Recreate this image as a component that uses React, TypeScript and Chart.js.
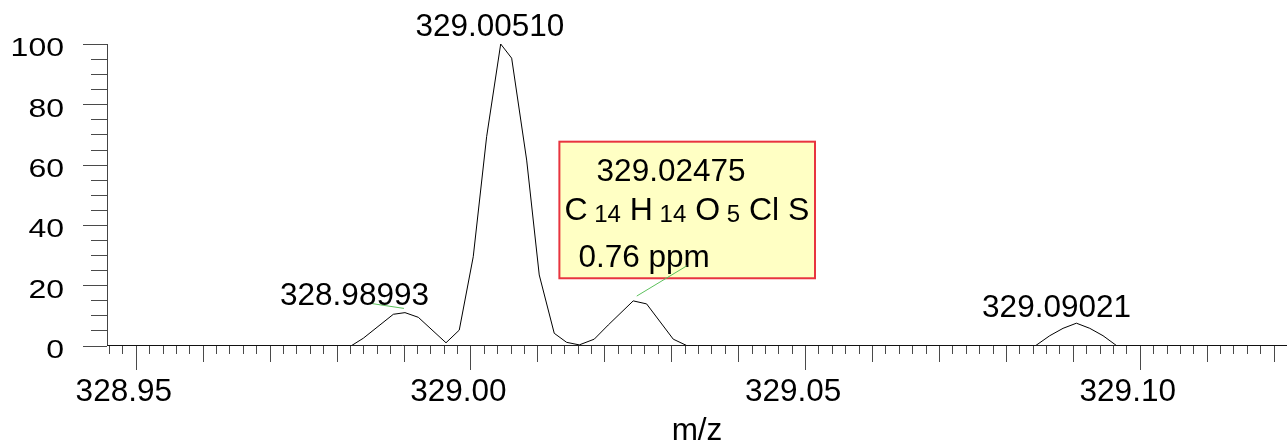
import React, { useEffect, useRef } from "react";
import { Chart, registerables } from "chart.js";

Chart.register(...registerables);

// ---- data ----
const X_MIN = 328.9457;
const X_MAX = 329.122;
const mzValues = [
  328.9457, 328.98226, 328.98399, 328.98848, 328.99022, 328.99221, 328.99635,
  328.99833, 329.00042, 329.00242, 329.00452, 329.00616, 329.0084, 329.01028,
  329.01252, 329.01437, 329.01626, 329.0185, 329.02059, 329.02432, 329.02632,
  329.0303, 329.0323, 329.08447, 329.08656, 329.08854, 329.09054, 329.09253,
  329.09451, 329.09651, 329.122,
];
const intensity = [
  0, 0, 2.4, 10.35, 10.9, 9.35, 0.9, 5.1, 29.45, 69.25, 100, 95.3, 61.5, 23.4,
  4.05, 1.05, 0.2, 2.1, 6.8, 14.8, 13.8, 2.1, 0, 0, 3.25, 5.7, 7.4, 5.7, 3.25,
  0, 0,
];

const xTickValues = [328.95, 329.0, 329.05, 329.1];
const xTickLabels = ["328.95", "329.00", "329.05", "329.10"];
const yTickValues = [0, 20, 40, 60, 80, 100];
const yTickLabels = ["0", "20", "40", "60", "80", "100"];

// peak labels (centre x, baseline y in data units)
const peakLabels = ["328.98993", "329.00510", "329.09021"];
const peakLabelX = [328.98268, 329.00291, 329.08757];
const peakLabelY = [13.4, 102.65, 9.55];

// green leader lines [x1, y1, x2, y2] in data units
const leaderLines = [
  [328.985, 14.0, 328.99007, 12.3],
  [329.03231, 26.4, 329.02485, 16.4],
];

// annotation box
const boxX = [329.01329, 329.05148];
const boxY = [67.6, 22.3];
const boxMass = "329.02475";
const boxMassPos = [329.01885, 54.7];
const formulaParts: [string, boolean][] = [
  ["C", false],
  [" 14", true],
  [" H", false],
  [" 14", true],
  [" O", false],
  [" 5", true],
  [" Cl S", false],
];
const formulaPos = [329.01404, 41.6];
const boxPpm = "0.76 ppm";
const boxPpmPos = [329.01614, 26.1];

const xTitle = "m/z";

const FONT = '"Liberation Sans", Arial, Helvetica, sans-serif';

function drawText(
  ctx: CanvasRenderingContext2D,
  text: string,
  x: number,
  y: number,
  size: number,
  align: CanvasTextAlign,
  sx = 1,
  sy = 1
) {
  ctx.save();
  ctx.translate(x, y);
  ctx.scale(sx, sy);
  ctx.font = `${size}px ${FONT}`;
  ctx.textAlign = align;
  ctx.textBaseline = "alphabetic";
  ctx.fillStyle = "#000";
  ctx.fillText(text, 0, 0);
  ctx.restore();
}

const decorPlugin = {
  id: "decor",
  afterDraw(chart: any) {
    const ctx: CanvasRenderingContext2D = chart.ctx;
    const xs = chart.scales.x;
    const ys = chart.scales.y;
    const area = chart.chartArea;
    const X = (v: number) => xs.getPixelForValue(v);
    const Y = (v: number) => ys.getPixelForValue(v);

    ctx.save();
    // x ticks
    ctx.strokeStyle = "#4a4a4a";
    ctx.lineWidth = 1;
    const kMin = Math.ceil(X_MIN / 0.002 - 1e-6);
    const kMax = Math.floor(X_MAX / 0.002 + 1e-6);
    const yb = Math.round(area.bottom);
    ctx.beginPath();
    for (let k = kMin; k <= kMax; k++) {
      const px = Math.round(X(k * 0.002)) + 0.5;
      if (px <= area.left + 1) continue;
      const len = k % 25 === 0 ? 24 : k % 5 === 0 ? 16 : 8;
      ctx.moveTo(px, yb);
      ctx.lineTo(px, yb + len);
    }
    ctx.stroke();
    // y ticks
    const xl = Math.round(area.left);
    ctx.beginPath();
    for (let v = 0; v <= 100; v += 5) {
      const py = Math.round(Y(v)) + 0.5;
      const len = v % 20 === 0 ? 24 : 16;
      ctx.moveTo(xl - len, py);
      ctx.lineTo(xl, py);
    }
    ctx.stroke();
    ctx.restore();

    // tick labels
    xTickValues.forEach((v, i) => {
      drawText(ctx, xTickLabels[i], X(v) - 12, area.bottom + 55.5, 31.5, "center");
    });
    yTickValues.forEach((v, i) => {
      drawText(ctx, yTickLabels[i], 64, Y(v) + 12.4, 32, "right", 1, 0.78);
    });
    // axis title
    drawText(ctx, xTitle, (area.left + area.right) / 2, 440, 31.5, "center");

    // leader line for first peak
    ctx.save();
    ctx.strokeStyle = "#5cc05c";
    ctx.lineWidth = 1;
    const l0 = leaderLines[0];
    ctx.beginPath();
    ctx.moveTo(X(l0[0]), Y(l0[1]));
    ctx.lineTo(X(l0[2]), Y(l0[3]));
    ctx.stroke();
    ctx.restore();

    // peak labels
    peakLabels.forEach((t, i) => {
      drawText(ctx, t, X(peakLabelX[i]), Y(peakLabelY[i]), 31.5, "center");
    });

    // annotation box
    const bx0 = X(boxX[0]);
    const bx1 = X(boxX[1]);
    const by0 = Y(boxY[0]);
    const by1 = Y(boxY[1]);
    ctx.save();
    ctx.fillStyle = "#ffffc4";
    ctx.fillRect(bx0, by0, bx1 - bx0, by1 - by0);
    ctx.strokeStyle = "#e8343f";
    ctx.lineWidth = 2;
    ctx.strokeRect(bx0, by0, bx1 - bx0, by1 - by0);
    ctx.restore();

    drawText(ctx, boxMass, X(boxMassPos[0]), Y(boxMassPos[1]), 31.5, "left");
    let fx = X(formulaPos[0]);
    const fy = Y(formulaPos[1]);
    formulaParts.forEach(([t, sub]) => {
      const size = sub ? 24 : 32;
      ctx.font = `${size}px ${FONT}`;
      const w = ctx.measureText(t).width;
      drawText(ctx, t, fx, sub ? fy + 2 : fy, size, "left");
      fx += w;
    });
    drawText(ctx, boxPpm, X(boxPpmPos[0]), Y(boxPpmPos[1]), 31.5, "left");

    // leader line from box to peak
    ctx.save();
    ctx.strokeStyle = "#5cc05c";
    ctx.lineWidth = 1;
    const l1 = leaderLines[1];
    ctx.beginPath();
    ctx.moveTo(X(l1[0]), Y(l1[1]));
    ctx.lineTo(X(l1[2]), Y(l1[3]));
    ctx.stroke();
    ctx.restore();
  },
};

export default function App() {
  const ref = useRef<HTMLCanvasElement | null>(null);
  useEffect(() => {
    if (!ref.current) return;
    const chart = new Chart(ref.current, {
      type: "line",
      data: {
        datasets: [
          {
            data: mzValues.map((x, i) => ({ x, y: intensity[i] })),
            borderColor: "#000",
            borderWidth: 1,
            pointRadius: 0,
            tension: 0,
            fill: false,
          },
        ],
      },
      options: {
        animation: false,
        responsive: false,
        events: [],
        layout: { padding: { top: 44, left: 0, right: 0, bottom: 0 } },
        plugins: {
          legend: { display: false },
          tooltip: { enabled: false },
        },
        scales: {
          x: {
            type: "linear",
            min: X_MIN,
            max: X_MAX,
            ticks: { display: false },
            grid: { display: false },
            border: { display: true, color: "#222", width: 1 },
            afterFit: (s: any) => {
              s.height = 97.5;
            },
          },
          y: {
            type: "linear",
            min: 0,
            max: 100,
            ticks: { display: false },
            grid: { display: false },
            border: { display: true, color: "#444", width: 1 },
            afterFit: (s: any) => {
              s.width = 107;
            },
          },
        },
      },
      plugins: [decorPlugin],
    } as any);
    return () => chart.destroy();
  }, []);
  return (
    <div
      style={{
        position: "absolute",
        left: 0,
        top: 0,
        width: 1287,
        height: 443,
        background: "#fff",
      }}
    >
      <canvas ref={ref} width={1287} height={443} style={{ display: "block" }} />
    </div>
  );
}
